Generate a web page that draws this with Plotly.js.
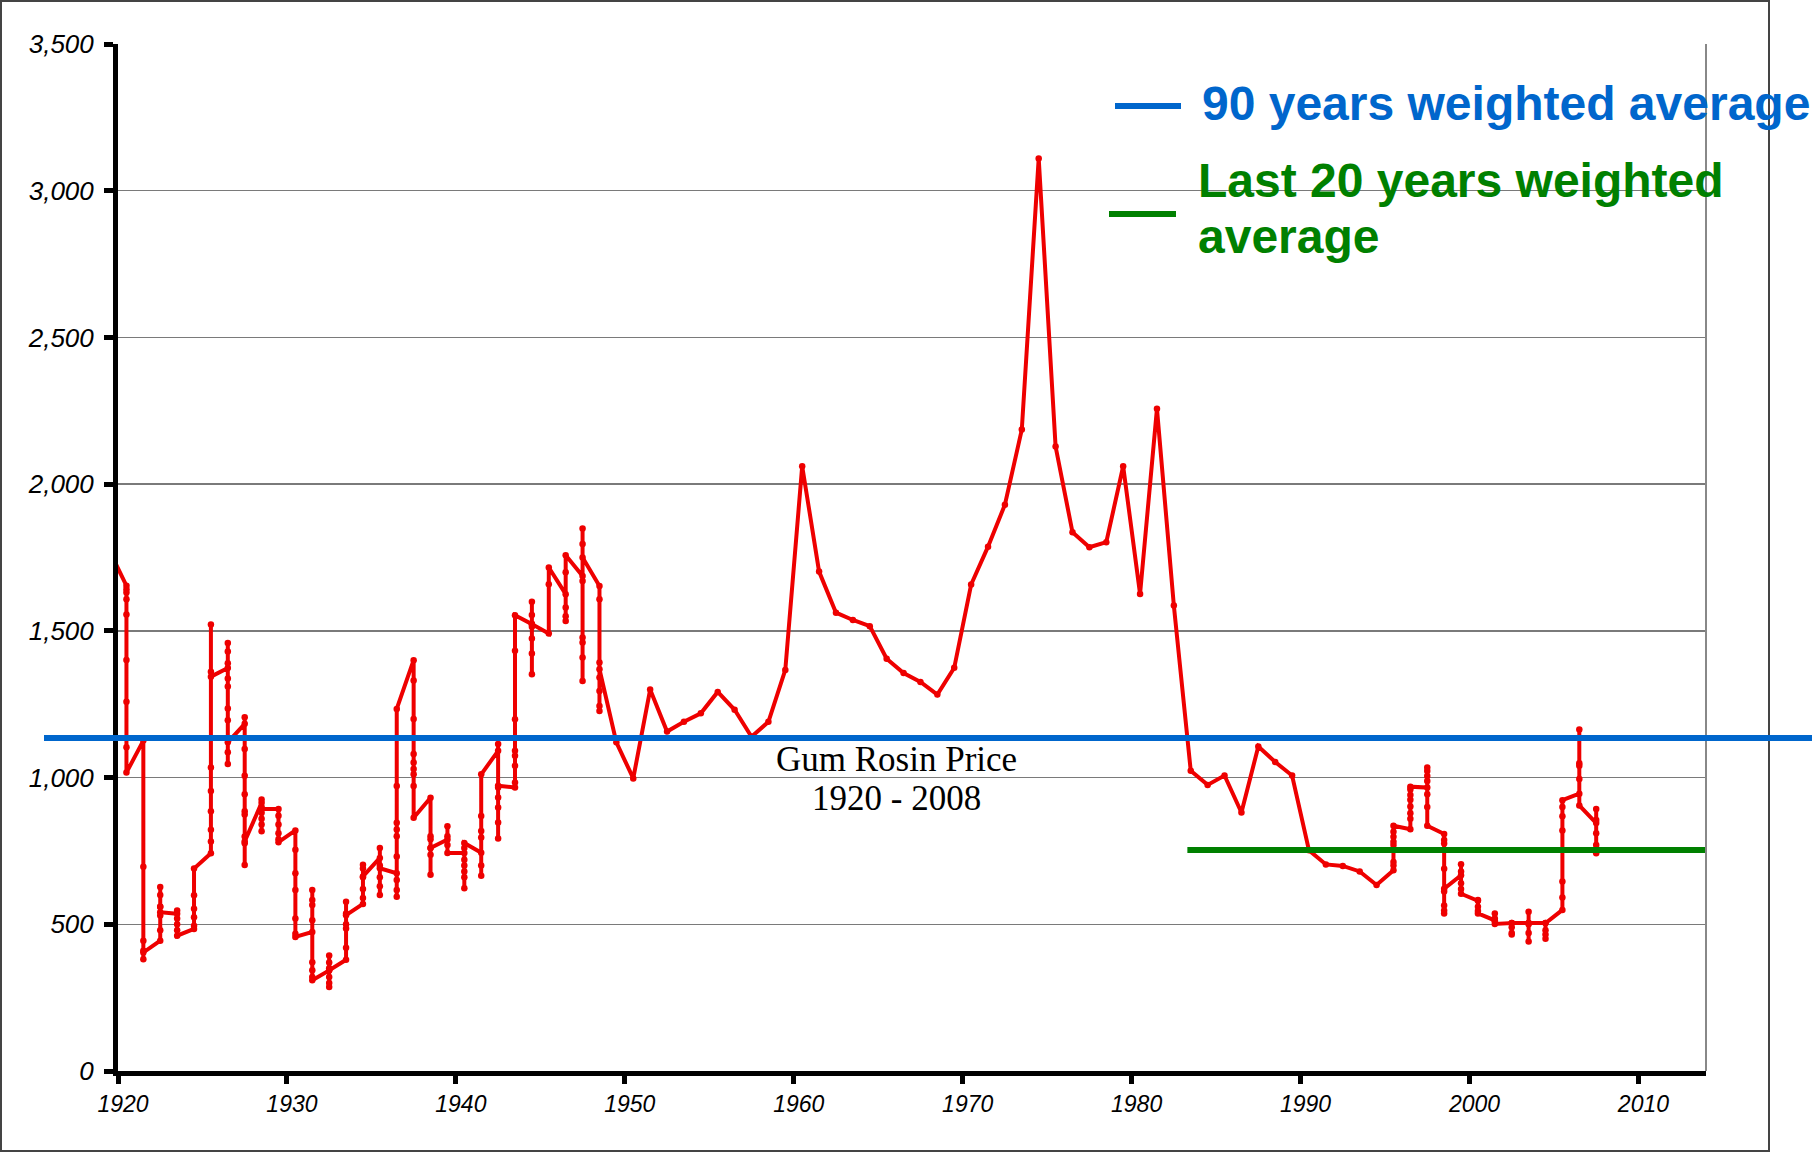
<!DOCTYPE html>
<html>
<head>
<meta charset="utf-8">
<script src="https://cdn.plot.ly/plotly-3.0.1.min.js"></script>
<style>
  html, body { margin: 0; padding: 0; background: #fff; }
  #chart { width: 1812px; height: 1153px; }
</style>
</head>
<body>
<div id="chart"></div>
<script>
// ---- Data ----
// Early period: several readings per year, plotted at mid-year
const earlyYears = [1919.6, 1920.5, 1921.5, 1922.5, 1923.5, 1924.5, 1925.5, 1926.5, 1927.5, 1928.5,
  1929.5, 1930.5, 1931.5, 1932.5, 1933.5, 1934.5, 1935.5, 1936.5, 1937.5, 1938.5,
  1939.5, 1940.5, 1941.5, 1942.5, 1943.5, 1944.5, 1945.5, 1946.5, 1947.5, 1948.5];
const earlyPrices = [
  [1760],
  [1654, 1642, 1631, 1608, 1556, 1401, 1258, 1103, 1017],
  [1126, 696, 444, 410, 381, 404],
  [444, 480, 530, 560, 600, 627, 560, 541],
  [536, 547, 520, 500, 480, 461],
  [484, 495, 524, 553, 599, 690],
  [742, 782, 822, 885, 954, 1034, 1361, 1522, 1344],
  [1373, 1390, 1459, 1430, 1338, 1310, 1235, 1195, 1086, 1046, 1120],
  [1183, 1206, 1097, 1006, 943, 885, 874, 799, 776, 702, 782],
  [914, 925, 900, 880, 860, 840, 817, 893],
  [893, 870, 840, 810, 790, 780],
  [820, 754, 674, 617, 520, 468, 457],
  [474, 617, 583, 566, 514, 371, 343, 320, 309],
  [343, 394, 370, 350, 320, 300, 286, 343],
  [379, 420, 486, 500, 537, 577, 531],
  [569, 590, 620, 660, 690, 703, 663],
  [726, 760, 700, 660, 630, 600, 691],
  [674, 651, 617, 594, 731, 800, 823, 846, 971, 1234],
  [1400, 1331, 1200, 1080, 1051, 1029, 1011, 971, 863],
  [931, 800, 790, 760, 737, 669, 760],
  [789, 834, 800, 770, 743],
  [743, 720, 700, 660, 623, 680, 760, 777],
  [744, 700, 665, 796, 818, 869, 1011],
  [1091, 1114, 966, 932, 898, 847, 792, 972],
  [966, 983, 1040, 1074, 1091, 1199, 1432, 1553],
  [1523, 1599, 1554, 1514, 1474, 1423, 1352, 1523],
  [1491, 1659, 1716],
  [1625, 1580, 1550, 1534, 1700, 1758],
  [1687, 1670, 1796, 1849, 1477, 1460, 1409, 1329, 1750],
  [1653, 1608, 1392, 1341, 1295, 1244, 1227, 1369]
];

// Middle period: one reading per year
const annualYears = [1949.5, 1950.5, 1951.5, 1952.5, 1953.5, 1954.5, 1955.5, 1956.5, 1957.5, 1958.5,
  1959.5, 1960.5, 1961.5, 1962.5, 1963.5, 1964.5, 1965.5, 1966.5, 1967.5, 1968.5,
  1969.5, 1970.5, 1971.5, 1972.5, 1973.5, 1974.5, 1975.5, 1976.5, 1977.5, 1978.5,
  1979.5, 1980.5, 1981.5, 1982.5, 1983.5, 1984.5, 1985.5, 1986.5, 1987.5, 1988.5,
  1989.5, 1990.5, 1991.5, 1992.5, 1993.5, 1994.5];
const annualPrices = [1120, 997, 1300, 1157, 1190, 1219, 1292, 1231, 1139, 1190,
  1367, 2061, 1702, 1562, 1537, 1516, 1405, 1356, 1326, 1283,
  1374, 1658, 1787, 1930, 2186, 3110, 2128, 1836, 1785, 1802,
  2061, 1626, 2257, 1586, 1023, 975, 1007, 881, 1106, 1053,
  1007, 752, 704, 699, 680, 634];

// Late period: several readings per year
const lateYears = [1995.5, 1996.5, 1997.5, 1998.5, 1999.5, 2000.5, 2001.5, 2002.5, 2003.5, 2004.5,
  2005.5, 2006.5, 2007.5];
const latePrices = [
  [684, 700, 712, 770, 781, 798, 815, 836],
  [824, 860, 878, 901, 924, 941, 959, 969],
  [966, 1034, 1022, 1005, 988, 943, 900, 836],
  [808, 787, 775, 689, 612, 564, 547, 537, 621],
  [667, 705, 680, 640, 620, 604],
  [580, 583, 560, 545, 537],
  [513, 537, 520, 510, 501],
  [504, 490, 470, 465, 504],
  [504, 543, 500, 470, 441, 504],
  [504, 480, 465, 451, 504],
  [549, 591, 646, 820, 868, 900, 923],
  [945, 995, 1049, 1164, 1040, 905],
  [845, 893, 855, 810, 770, 742]
];

// Weighted averages
const avg90 = 1135;          // 90 years weighted average
const avg20 = 753;           // last 20 years weighted average
const avg20Years = [1983.3, 2014];

const xTicks = [1920, 1930, 1940, 1950, 1960, 1970, 1980, 1990, 2000, 2010];
const yTicks = [0, 500, 1000, 1500, 2000, 2500, 3000, 3500];

const legendBlue = '90 years weighted average';
const legendGreen1 = 'Last 20 years weighted';
const legendGreen2 = 'average';
const chartLabel1 = 'Gum Rosin Price';
const chartLabel2 = '1920 - 2008';

// ---- Build flat series ----
const xs = [], ys = [];
function addClusters(years, prices) {
  years.forEach((yr, i) => {
    prices[i].forEach(v => { xs.push(yr); ys.push(v); });
  });
}
addClusters(earlyYears, earlyPrices);
annualYears.forEach((yr, i) => { xs.push(yr); ys.push(annualPrices[i]); });
addClusters(lateYears, latePrices);

// ---- Geometry helpers (plot area in pixels) ----
const W = 1812, H = 1153;
const M = { l: 118, r: 106, t: 44, b: 82 };
const PW = W - M.l - M.r, PH = H - M.t - M.b;
const px = x => (x - M.l) / PW;
const py = y => (H - M.b - y) / PH;

const BLUE = '#0066CC', GREEN = '#008000', RED = '#ee0000';

const traces = [
  {
    x: xs, y: ys, type: 'scatter', mode: 'lines+markers',
    line: { color: RED, width: 4 },
    marker: { color: RED, size: 6.5 },
    hoverinfo: 'skip', cliponaxis: true
  },
  {
    x: avg20Years, y: [avg20, avg20], type: 'scatter', mode: 'lines',
    line: { color: GREEN, width: 6 }, hoverinfo: 'skip'
  }
];

const tickFont = { family: 'Liberation Sans, Arial, sans-serif', size: 26, style: 'italic', color: '#000' };

const layout = {
  width: W, height: H,
  margin: { l: M.l, r: M.r, t: M.t, b: M.b, pad: 0 },
  paper_bgcolor: '#ffffff', plot_bgcolor: '#ffffff',
  showlegend: false,
  xaxis: {
    range: [1920, 2014], tickmode: 'array', tickvals: xTicks, ticktext: xTicks.map(String),
    showgrid: false, zeroline: false,
    showline: true, linecolor: '#000', linewidth: 5,
    ticks: 'outside', ticklen: 8, tickwidth: 5, tickcolor: '#000',
    ticklabelshift: 5,
    tickfont: Object.assign({}, tickFont, { size: 23 })
  },
  yaxis: {
    range: [0, 3500], tickmode: 'array', tickvals: yTicks, tickformat: ',',
    showgrid: true, gridcolor: '#7a7a7a', gridwidth: 1.5, zeroline: false,
    showline: true, linecolor: '#000', linewidth: 5,
    ticks: 'outside', ticklen: 9, tickwidth: 5, tickcolor: '#000',
    ticklabelstandoff: 5,
    tickfont: tickFont
  },
  shapes: [
    // outer frame
    { type: 'rect', xref: 'paper', yref: 'paper', x0: px(1), x1: px(1769), y0: py(1151), y1: py(1),
      line: { color: '#444', width: 2 }, fillcolor: 'rgba(0,0,0,0)', layer: 'below' },
    // right border of plot area
    { type: 'line', xref: 'paper', yref: 'paper', x0: 1, x1: 1, y0: 0, y1: 1,
      line: { color: '#888', width: 2 } },
    // 90-year weighted average line
    { type: 'line', xref: 'paper', yref: 'y', x0: px(44), x1: px(1812), y0: avg90, y1: avg90,
      line: { color: BLUE, width: 6 }, layer: 'above' },
    // legend swatches
    { type: 'line', xref: 'paper', yref: 'paper', x0: px(1115), x1: px(1181), y0: py(106), y1: py(106),
      line: { color: BLUE, width: 6 } },
    { type: 'line', xref: 'paper', yref: 'paper', x0: px(1109), x1: px(1176), y0: py(214), y1: py(214),
      line: { color: GREEN, width: 6 } }
  ],
  annotations: [
    { xref: 'paper', yref: 'paper', x: px(1200), y: py(104), xanchor: 'left', yanchor: 'middle',
      text: legendBlue, showarrow: false,
      font: { family: 'Liberation Sans, Arial, sans-serif', size: 48, weight: 'bold', color: BLUE } },
    { xref: 'paper', yref: 'paper', x: px(1196), y: py(180), xanchor: 'left', yanchor: 'middle',
      text: legendGreen1, showarrow: false,
      font: { family: 'Liberation Sans, Arial, sans-serif', size: 48, weight: 'bold', color: GREEN } },
    { xref: 'paper', yref: 'paper', x: px(1196), y: py(236), xanchor: 'left', yanchor: 'middle',
      text: legendGreen2, showarrow: false,
      font: { family: 'Liberation Sans, Arial, sans-serif', size: 48, weight: 'bold', color: GREEN } },
    { xref: 'x', yref: 'y', x: 1966.1, y: 1061, xanchor: 'center', yanchor: 'middle',
      text: chartLabel1, showarrow: false,
      font: { family: 'Liberation Serif, Times New Roman, serif', size: 35, color: '#000' } },
    { xref: 'x', yref: 'y', x: 1966.1, y: 929, xanchor: 'center', yanchor: 'middle',
      text: chartLabel2, showarrow: false,
      font: { family: 'Liberation Serif, Times New Roman, serif', size: 35, color: '#000' } }
  ]
};

Plotly.newPlot('chart', traces, layout, { staticPlot: true, displayModeBar: false });
</script>
</body>
</html>
